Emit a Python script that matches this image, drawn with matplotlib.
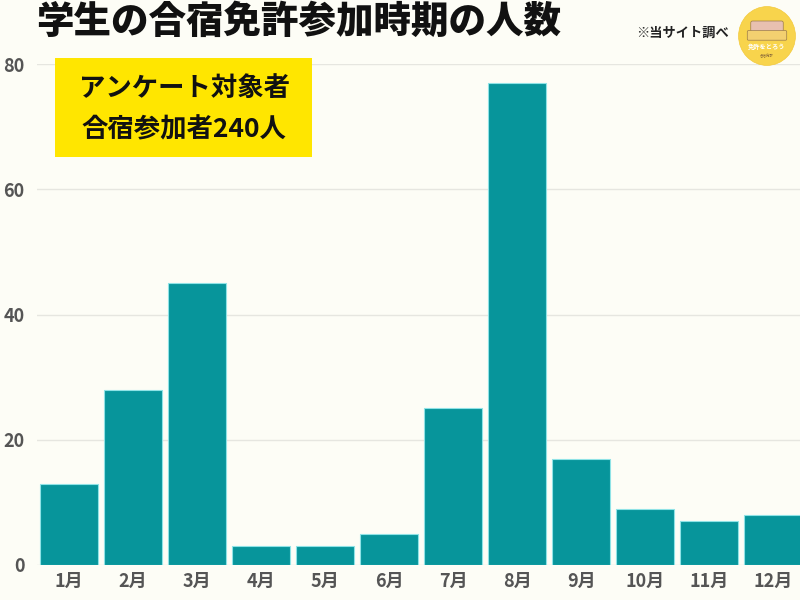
import matplotlib
matplotlib.use("Agg")
import matplotlib.pyplot as plt
from matplotlib.patches import Ellipse, FancyBboxPatch, Rectangle

plt.rcParams['font.family'] = ['Noto Sans CJK JP', 'DejaVu Sans']

months = ["1月", "2月", "3月", "4月", "5月", "6月", "7月", "8月", "9月", "10月", "11月", "12月"]
counts = [13, 28, 45, 3, 3, 5, 25, 77, 17, 9, 7, 8]
yticks = [0, 20, 40, 60, 80]

title = "学生の合宿免許参加時期の人数"
note = "※当サイト調べ"
box_lines = ["アンケート対象者", "合宿参加者240人"]

bg = "#fdfdf6"
bar_color = "#07959b"

fig = plt.figure(figsize=(8, 6), dpi=100, facecolor=bg)
ax = fig.add_axes([37/800, 1 - 565/600, 1 - 37/800, (565 - 64)/600])
ax.set_facecolor(bg)

x = list(range(len(months)))
bars = ax.bar(x, counts, width=0.9, color=bar_color, edgecolor="#8fe3e6",
              linewidth=0.8, zorder=3)

ax.set_xlim(-0.5, 11.42)
ax.set_ylim(0, 80)
ax.set_yticks(yticks)
ax.set_yticklabels([str(v) for v in yticks])
ax.set_xticks(x)
ax.set_xticklabels(months)
ax.grid(axis="y", color="#e6e6e0", linewidth=1, zorder=0)
ax.tick_params(axis="both", length=0, labelsize=13, labelcolor="#555555")
ax.tick_params(axis="y", pad=9)
ax.tick_params(axis="x", pad=5)
for lbl in ax.get_xticklabels() + ax.get_yticklabels():
    lbl.set_fontweight("bold")
for s in ax.spines.values():
    s.set_visible(False)

# Title
fig.text(36/800, 1 - 22/600, title, fontsize=27, fontweight="black",
         color="#111111", ha="left", va="center")
fig.text(683/800, 1 - 33/600, note, fontsize=9.5, fontweight="bold",
         color="#222222", ha="center", va="center")

# Yellow box
fig.add_artist(Rectangle((55/800, 1 - 157/600), (312 - 55)/800, (157 - 58)/600,
                         transform=fig.transFigure, facecolor="#ffe600",
                         edgecolor="none", zorder=5))
fig.text(184/800, 1 - 88/600, box_lines[0], fontsize=19, fontweight="bold",
         color="#111111", ha="center", va="center", zorder=6)
fig.text(184/800, 1 - 130/600, box_lines[1], fontsize=19, fontweight="bold",
         color="#111111", ha="center", va="center", zorder=6)

# Logo
lax = fig.add_axes([738/800, 1 - 66/600, 58/800, 60/600])
lax.set_xlim(0, 1)
lax.set_ylim(0, 1)
lax.axis("off")
lax.add_patch(Ellipse((0.5, 0.5), 0.98, 0.98, facecolor="#f8d44c", edgecolor="#f3c93a", lw=0.5))
lax.add_patch(FancyBboxPatch((0.25, 0.6), 0.5, 0.12, boxstyle="round,pad=0.03",
                             facecolor="#e8c0b0", edgecolor="#9a7a4a", lw=0.5))
lax.add_patch(FancyBboxPatch((0.18, 0.45), 0.64, 0.12, boxstyle="round,pad=0.02",
                             facecolor="#f3d070", edgecolor="#9a7a4a", lw=0.5))
lax.text(0.5, 0.33, "免許をとろう", fontsize=4.5, fontweight="bold",
         color="#ffffff", ha="center", va="center")
lax.text(0.5, 0.17, "合宿免許", fontsize=2.5, color="#8a6a3a", ha="center", va="center")

fig.savefig("out.png", dpi=100, facecolor=bg)
